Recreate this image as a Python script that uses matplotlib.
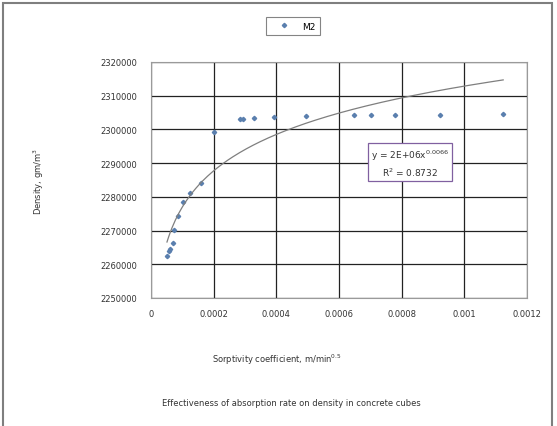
import numpy as np
import matplotlib.pyplot as plt
from matplotlib.patches import Rectangle

# Sorptivity coefficient (m/min^0.5) vs density (gm/m3), series M2
sorptivity = [0.000051, 0.000057, 0.000062, 0.000070, 0.000072, 0.000085,
              0.000102, 0.000125, 0.000161, 0.000202, 0.000284, 0.000293,
              0.000329, 0.000391, 0.000496, 0.000649, 0.000701, 0.000779,
              0.000921, 0.001124]
density = [2262400, 2264000, 2264600, 2266300, 2270100, 2274300,
           2278500, 2281200, 2284000, 2299300, 2302950, 2303000,
           2303400, 2303600, 2304000, 2304200, 2304200, 2304300,
           2304400, 2304700]

x_ticks = [0, 0.0002, 0.0004, 0.0006, 0.0008, 0.001, 0.0012]
x_tick_labels = ['0', '0.0002', '0.0004', '0.0006', '0.0008', '0.001', '0.0012']
y_ticks = [2250000, 2260000, 2270000, 2280000, 2290000, 2300000, 2310000, 2320000]

eq_text = 'y = 2E+06x$^{0.0066}$\nR$^2$ = 0.8732'

W, H = 557, 427
fig = plt.figure(figsize=(W / 100, H / 100), dpi=100)
ax = fig.add_axes([151 / W, 1 - 299 / H, 376 / W, 236 / H])

# outer chart frame
fig.patches.append(Rectangle((3 / W, -0.05), 549 / W, 1.04, transform=fig.transFigure,
                             fill=False, edgecolor='#7f7f7f', linewidth=1.5))

pts, = ax.plot(sorptivity, density, linestyle='none', marker='D', markersize=2.2,
               color='#5a7fae', label='M2')

# power trendline, fitted in log space like a spreadsheet trendline
xs = np.array(sorptivity)
b, ln_a = np.polyfit(np.log(xs), np.log(density), 1)
xx = np.linspace(xs.min(), xs.max(), 200)
ax.plot(xx, np.exp(ln_a) * xx ** b, color='#7f7f7f', linewidth=0.9)

ax.set_xlim(0, 0.0012)
ax.set_ylim(2250000, 2320000)
ax.set_xticks(x_ticks)
ax.set_xticklabels(x_tick_labels)
ax.set_yticks(y_ticks)
ax.set_yticklabels([str(v) for v in y_ticks])
ax.tick_params(length=0, labelsize=6, pad=8, colors='#333333')
ax.tick_params(axis='y', pad=10)
ax.grid(True, color='#222222', linewidth=0.9)
ax.set_axisbelow(True)
for s in ax.spines.values():
    s.set_color('#9a9a9a')

ax.text(410 / W, 1 - 164 / H, eq_text, transform=fig.transFigure, ha='center', va='center',
        fontsize=6.5, color='#333333', linespacing=1.3,
        bbox=dict(boxstyle='square,pad=0.35', facecolor='white', edgecolor='#8060a0', linewidth=0.9))

fig.text(39 / W, 1 - 181 / H, 'Density, gm/m$^3$', rotation=90, ha='center', va='center',
         fontsize=6, color='#333333')
fig.text(277 / W, 1 - 360 / H, 'Sorptivity coefficient, m/min$^{0.5}$', ha='center', va='center',
         fontsize=6, color='#333333')
fig.text(291 / W, 1 - 404 / H, 'Effectiveness of absorption rate on density in concrete cubes',
         ha='center', va='center', fontsize=6, color='#333333')

leg = fig.legend(handles=[pts], loc='center', bbox_to_anchor=(293 / W, 1 - 27 / H),
                 fontsize=6.5, frameon=True, fancybox=False, edgecolor='#666666',
                 handlelength=3.0, handletextpad=0.6, borderpad=0.5, borderaxespad=0)
leg.get_frame().set_linewidth(0.8)

fig.savefig('out.png', dpi=100)
